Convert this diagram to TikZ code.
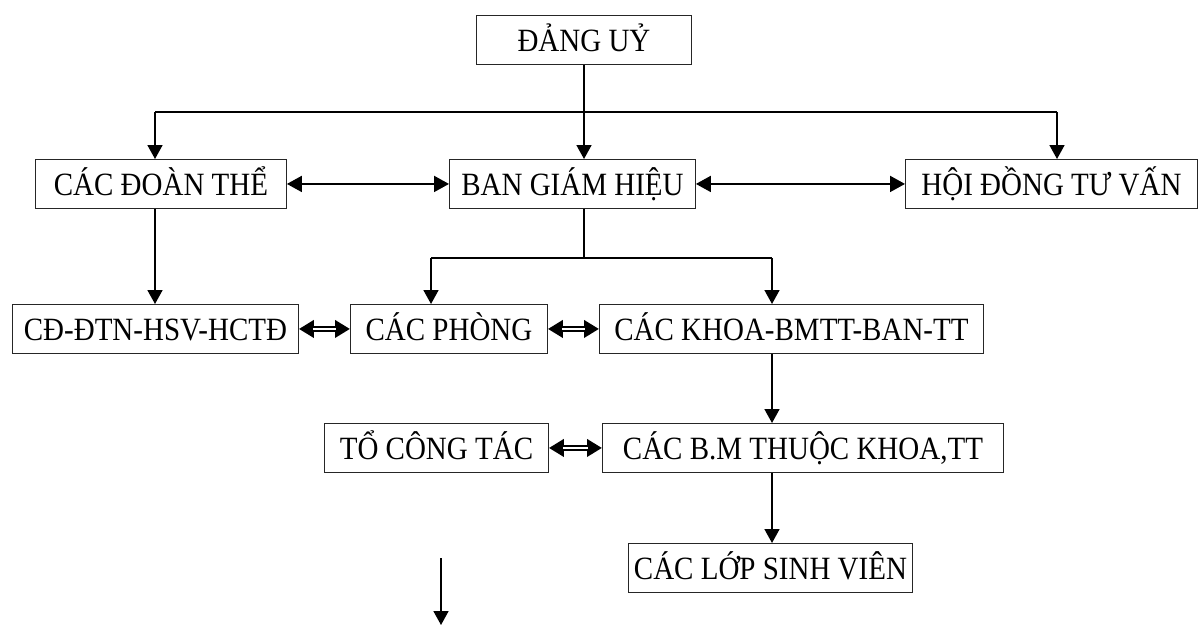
\documentclass[tikz,border=0pt]{standalone}
\usepackage{fontspec}
\usepackage{graphicx}
\setmainfont{Liberation Serif}
\usetikzlibrary{arrows.meta}
\newcommand{\vtxt}[1]{\scalebox{1}[1.12]{#1}}
\begin{document}
\begin{tikzpicture}[x=1pt,y=-1pt,
  box/.style={draw=black!85, line width=0.9pt, anchor=north west, inner sep=0pt,
    font=\fontsize{29}{30}\selectfont, text height=23pt, text depth=0pt},
  arr/.style={line width=1.7pt, -{Triangle[length=14pt,width=15pt]}},
  dblarr/.style={line width=1.9pt, {Triangle[length=15pt,width=16pt]}-{Triangle[length=15pt,width=16pt]}},
  plain/.style={line width=1.7pt},
  dblout/.style={line width=5.6pt, {Triangle[length=15pt,width=17pt]}-{Triangle[length=15pt,width=17pt]}},
  dblin/.style={line width=2.4pt, white, shorten >=14pt, shorten <=14pt}
]
\useasboundingbox (0,0) rectangle (1199,626);
\fill[white] (0,0) rectangle (1199,626);

% boxes: top-left corner, width, height
\node[box, minimum width=215pt, minimum height=49pt] (dang)  at (476,15)  {\vtxt{ĐẢNG UỶ}};
\node[box, minimum width=251pt, minimum height=49pt] (doan)  at (35,159)  {\vtxt{CÁC ĐOÀN THỂ}};
\node[box, minimum width=246pt, minimum height=49pt] (bgh)   at (449,159) {\vtxt{BAN GIÁM HIỆU}};
\node[box, minimum width=292pt, minimum height=49pt] (hoi)   at (905,159) {\vtxt{HỘI ĐỒNG TƯ VẤN}};
\node[box, minimum width=286pt, minimum height=49pt] (cd)    at (12,304)  {\vtxt{CĐ-ĐTN-HSV-HCTĐ}\hspace{22pt}};
\node[box, minimum width=197pt, minimum height=49pt] (phong) at (350,304) {\vtxt{CÁC PHÒNG}};
\node[box, minimum width=384pt, minimum height=49pt] (khoa)  at (599,304) {\vtxt{CÁC KHOA-BMTT-BAN-TT}};
\node[box, minimum width=224pt, minimum height=49pt] (to)    at (324,423) {\vtxt{TỔ CÔNG TÁC}};
\node[box, minimum width=401pt, minimum height=49pt] (bm)    at (602,423) {\vtxt{CÁC B.M THUỘC KHOA,TT}};
\node[box, minimum width=284pt, minimum height=49pt] (lop)   at (628,543) {\vtxt{CÁC LỚP SINH VIÊN}};

% junction coordinates
\coordinate (j0) at (584,112);
\coordinate (j1) at (155,112);
\coordinate (j2) at (1057,112);
\coordinate (b0) at (584,258);
\coordinate (b1) at (431,258);
\coordinate (b2) at (772,258);
\coordinate (s1) at (441,558);
\coordinate (s2) at (441,625);

% top level
\draw[arr] (dang.south -| j0) -- (j0 |- bgh.north);
\draw[plain] (j1) -- (j2);
\draw[arr] (j1) -- (j1 |- doan.north);
\draw[arr] (j2) -- (j2 |- hoi.north);

% row 2 double-headed arrows
\draw[dblarr] (doan.east) -- (bgh.west);
\draw[dblarr] (bgh.east) -- (hoi.west);

% down to row 3
\draw[arr] (j1 |- doan.south) -- (j1 |- cd.north);
\draw[plain] (b0 |- bgh.south) -- (b0);
\draw[plain] (b1) -- (b2);
\draw[arr] (b1) -- (b1 |- phong.north);
\draw[arr] (b2) -- (b2 |- khoa.north);

% row 3 double-line arrows
\draw[dblout] (cd.east) -- (phong.west);
\draw[dblin]  (cd.east) -- (phong.west);
\draw[dblout] (phong.east) -- (khoa.west);
\draw[dblin]  (phong.east) -- (khoa.west);

% down to row 4
\draw[arr] (b2 |- khoa.south) -- (b2 |- bm.north);
\draw[dblout] (to.east) -- (bm.west);
\draw[dblin]  (to.east) -- (bm.west);

% down to row 5
\draw[arr] (b2 |- bm.south) -- (b2 |- lop.north);

% stray arrow
\draw[arr] (s1) -- (s2);
\end{tikzpicture}
\end{document}
